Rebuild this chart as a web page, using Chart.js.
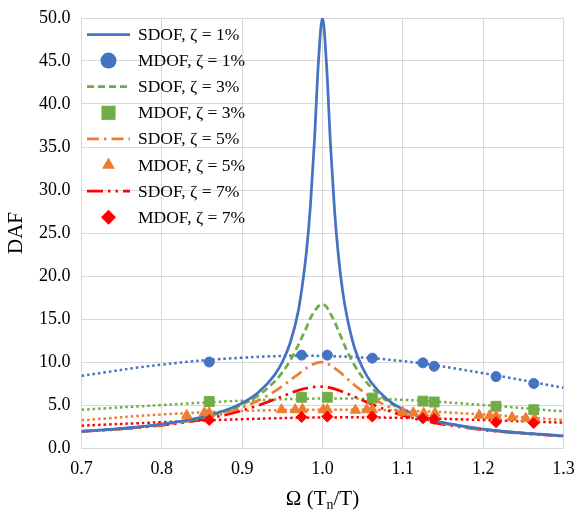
<!DOCTYPE html>
<html>
<head>
<meta charset="utf-8">
<script src="https://cdn.jsdelivr.net/npm/chart.js@4.4.0/dist/chart.umd.min.js"></script>
<style>
  html, body { margin: 0; padding: 0; background: #fff; }
</style>
</head>
<body>
<canvas id="dafChart" width="577" height="512"></canvas>
<script>
// Frequency ratio for the SDOF curves
const omega = [0.70, 0.75, 0.80, 0.85, 0.88, 0.90, 0.92, 0.94, 0.95, 0.96, 0.97, 0.975, 0.98, 0.985, 0.99, 0.995,
  1.00, 1.005, 1.01, 1.015, 1.02, 1.025, 1.03, 1.04, 1.05, 1.06, 1.08, 1.10, 1.12, 1.15, 1.20, 1.25, 1.30];

// SDOF DAF
const sdof1 = [1.92, 2.28, 2.78, 3.60, 4.42, 5.22, 6.45, 8.45, 10.0, 12.3, 16.0, 19.0, 22.8, 28.2, 35.8, 45.0,
  50.0, 44.6, 35.2, 27.6, 22.2, 18.3, 15.5, 11.6, 9.3, 7.7, 5.7, 4.5, 3.7, 2.95, 2.2, 1.72, 1.40];
const sdof3 = [1.94, 2.26, 2.74, 3.52, 4.30, 5.04, 6.10, 7.70, 8.8, 10.2, 12.0, 13.0, 14.0, 15.1, 15.9, 16.5,
  16.7, 16.4, 15.6, 14.7, 13.6, 12.5, 11.4, 9.6, 8.2, 7.1, 5.5, 4.45, 3.7, 2.95, 2.2, 1.74, 1.42];
const sdof5 = [1.93, 2.24, 2.70, 3.44, 4.10, 4.72, 5.52, 6.55, 7.2, 7.9, 8.6, 8.95, 9.3, 9.6, 9.8, 9.95,
  10.0, 9.9, 9.6, 9.3, 8.95, 8.55, 8.15, 7.3, 6.6, 5.9, 4.9, 4.1, 3.5, 2.85, 2.15, 1.72, 1.40];
const sdof7 = [1.92, 2.21, 2.64, 3.30, 3.87, 4.36, 4.96, 5.65, 6.0, 6.38, 6.7, 6.85, 6.95, 7.05, 7.1, 7.13,
  7.13, 7.1, 7.0, 6.88, 6.72, 6.55, 6.35, 5.95, 5.55, 5.15, 4.4, 3.8, 3.3, 2.75, 2.1, 1.7, 1.38];

// MDOF results
const mdofOmega = [0.859, 0.974, 1.006, 1.062, 1.125, 1.139, 1.216, 1.263];
const mdof1 = [10.0, 10.8, 10.8, 10.45, 9.9, 9.5, 8.3, 7.5];
const mdof3 = [5.4, 5.9, 5.9, 5.8, 5.45, 5.35, 4.85, 4.45];
const mdof7 = [3.25, 3.6, 3.65, 3.65, 3.45, 3.38, 3.0, 2.9];
const mdof5Omega = [0.831, 0.853, 0.859, 0.949, 0.966, 0.975, 1.001, 1.006, 1.041, 1.055, 1.062,
  1.100, 1.113, 1.126, 1.140, 1.195, 1.208, 1.216, 1.236, 1.253, 1.264];
const mdof5 = [3.8, 4.1, 4.1, 4.45, 4.45, 4.5, 4.45, 4.45, 4.4, 4.45, 4.45,
  4.15, 4.1, 4.05, 4.05, 3.8, 3.75, 3.7, 3.55, 3.45, 3.4];

// Dotted trend lines through the MDOF points
const trendOmega = [0.7, 0.8, 0.9, 1.0, 1.1, 1.2, 1.3];
const trend1 = [8.4, 9.7, 10.5, 10.7, 10.1, 8.7, 7.0];
const trend3 = [4.45, 5.0, 5.5, 5.75, 5.6, 5.0, 4.25];
const trend5 = [3.22, 3.9, 4.3, 4.45, 4.35, 3.9, 3.25];
const trend7 = [2.6, 3.0, 3.35, 3.55, 3.5, 3.25, 2.95];

const xTicks = [0.7, 0.8, 0.9, 1.0, 1.1, 1.2, 1.3];

const BLUE = '#4472c4', GREEN = '#70ad47', ORANGE = '#ed7d31', RED = '#ff0000';
const SERIF = '"Liberation Serif", "Times New Roman", serif';

const pts = (xs, ys) => xs.map((x, i) => ({ x: x, y: ys[i] }));

function sdofSet(label, ys, color, dash, row) {
  return {
    label, data: pts(omega, ys), showLine: true, borderColor: color, backgroundColor: color,
    borderWidth: 2.75, borderDash: dash, pointRadius: 0, cubicInterpolationMode: 'monotone',
    legendRow: row
  };
}
function mdofSet(label, xs, ys, color, style, radius, row) {
  return {
    label, data: pts(xs, ys), showLine: false, borderColor: color, backgroundColor: color,
    pointStyle: style, pointRadius: radius, pointBorderWidth: 1, legendRow: row
  };
}
function trendSet(ys, color) {
  return {
    label: 'trend', data: pts(trendOmega, ys), showLine: true, borderColor: color,
    borderWidth: 2.5, borderDash: [2.5, 3], pointRadius: 0, tension: 0.4
  };
}

const datasets = [
  mdofSet('MDOF, ζ = 7%', mdofOmega, mdof7, RED, 'rectRot', 5.5, 7),
  mdofSet('MDOF, ζ = 5%', mdof5Omega, mdof5, ORANGE, 'triangle', 6, 5),
  mdofSet('MDOF, ζ = 3%', mdofOmega, mdof3, GREEN, 'rect', 7, 3),
  mdofSet('MDOF, ζ = 1%', mdofOmega, mdof1, BLUE, 'circle', 5, 1),
  sdofSet('SDOF, ζ = 1%', sdof1, BLUE, [], 0),
  sdofSet('SDOF, ζ = 3%', sdof3, GREEN, [7, 4], 2),
  sdofSet('SDOF, ζ = 5%', sdof5, ORANGE, [12, 5, 2.5, 5], 4),
  sdofSet('SDOF, ζ = 7%', sdof7, RED, [16, 5, 2.5, 5, 2.5, 5], 6),
  trendSet(trend1, BLUE),
  trendSet(trend3, GREEN),
  trendSet(trend5, ORANGE),
  trendSet(trend7, RED)
];

// legend drawn inside the plot, Excel style
const legendSizes = { circle: 8, rect: 10, triangle: 7.5, rectRot: 7.5 };
const insideLegend = {
  id: 'insideLegend',
  afterDraw(chart) {
    const { ctx, chartArea } = chart;
    const x0 = chartArea.left + 5.5, x1 = chartArea.left + 48.5;
    ctx.save();
    ctx.font = '17.5px ' + SERIF;
    ctx.textBaseline = 'middle';
    chart.data.datasets.forEach(ds => {
      if (ds.legendRow === undefined) return;
      const y = chartArea.top + 16.5 + ds.legendRow * 26.1;
      if (ds.showLine) {
        ctx.strokeStyle = ds.borderColor;
        ctx.lineWidth = ds.borderWidth;
        ctx.setLineDash(ds.borderDash);
        ctx.beginPath();
        ctx.moveTo(x0, y);
        ctx.lineTo(x1, y);
        ctx.stroke();
        ctx.setLineDash([]);
      } else {
        ctx.fillStyle = ds.backgroundColor;
        ctx.strokeStyle = ds.borderColor;
        ctx.lineWidth = 1;
        Chart.helpers.drawPoint(ctx, { pointStyle: ds.pointStyle, radius: legendSizes[ds.pointStyle], rotation: 0 },
          (x0 + x1) / 2, y);
      }
      ctx.fillStyle = '#000';
      ctx.fillText(ds.label, chartArea.left + 56.5, y + 1);
    });
    ctx.restore();
  }
};

// x axis title with subscript n
const xTitle = {
  id: 'xTitle',
  afterDraw(chart) {
    const { ctx, chartArea } = chart;
    const cx = (chartArea.left + chartArea.right) / 2;
    const base = 505;
    const big = '21px ' + SERIF, small = '14px ' + SERIF;
    ctx.save();
    ctx.fillStyle = '#000';
    ctx.textBaseline = 'alphabetic';
    ctx.font = big;
    const a = 'Ω (T', c = '/T)';
    const wa = ctx.measureText(a).width, wc = ctx.measureText(c).width;
    ctx.font = small;
    const wb = ctx.measureText('n').width;
    let x = cx - (wa + wb + wc) / 2;
    ctx.font = big;
    ctx.fillText(a, x, base);
    x += wa;
    ctx.font = small;
    ctx.fillText('n', x, base + 4);
    x += wb;
    ctx.font = big;
    ctx.fillText(c, x, base);
    ctx.restore();
  }
};

new Chart(document.getElementById('dafChart').getContext('2d'), {
  type: 'scatter',
  data: { datasets },
  options: {
    responsive: false,
    animation: false,
    devicePixelRatio: 1,
    layout: { padding: { left: 0, top: 18, right: 13.5, bottom: 0 } },
    plugins: { legend: { display: false }, tooltip: { enabled: false } },
    scales: {
      x: {
        type: 'linear', min: 0.7, max: 1.3,
        afterBuildTicks: s => { s.ticks = xTicks.map(v => ({ value: v })); },
        afterFit: s => { s.height = 64; s.paddingLeft = 0; s.paddingRight = 0; },
        grid: { color: '#d9d9d9', lineWidth: 1, drawTicks: false },
        border: { color: '#d9d9d9' },
        ticks: { padding: 10, color: '#000', font: { family: SERIF, size: 18 }, callback: v => v.toFixed(1) }
      },
      y: {
        min: 0, max: 50,
        afterFit: s => { s.width = 81.5; s.paddingTop = 0; s.paddingBottom = 0; },
        grid: { color: '#d9d9d9', lineWidth: 1, drawTicks: false },
        border: { color: '#d9d9d9' },
        ticks: { stepSize: 5, padding: 11, color: '#000', font: { family: SERIF, size: 18 }, callback: v => v.toFixed(1) },
        title: { display: true, text: 'DAF', color: '#000', font: { family: SERIF, size: 21 }, padding: { top: 4, bottom: 0 } }
      }
    }
  },
  plugins: [insideLegend, xTitle]
});
</script>
</body>
</html>
